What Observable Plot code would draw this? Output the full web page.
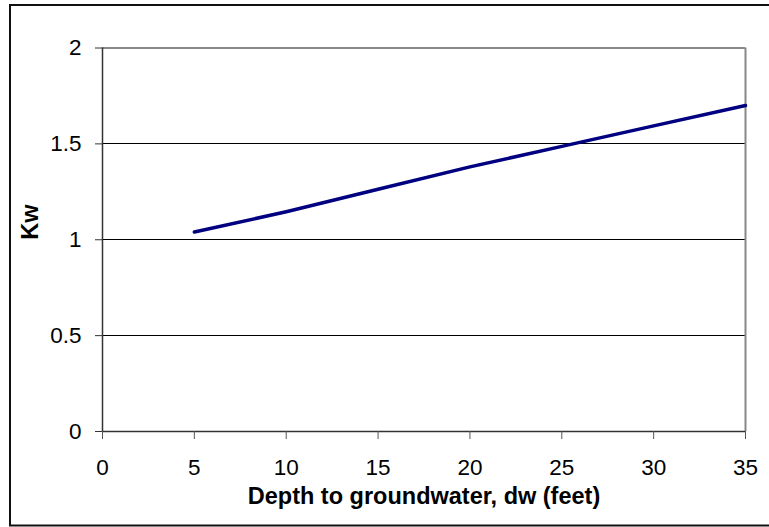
<!DOCTYPE html>
<html><head><meta charset="utf-8">
<script src="https://cdn.jsdelivr.net/npm/d3@7"></script>
<script src="https://cdn.jsdelivr.net/npm/@observablehq/plot@0.6"></script>
<style>body{margin:0;background:#fff;overflow:hidden}</style>
</head><body><div id="chart"></div>
<script>
const depth = [5, 10, 15, 20, 25, 30, 35];
const kw = [1.04, 1.146, 1.263, 1.38, 1.487, 1.594, 1.70];
const xTicks = [0, 5, 10, 15, 20, 25, 30, 35];
const yTicks = [0, 0.5, 1, 1.5, 2];
const gridY = [0.5, 1, 1.5];
const xTitle = "Depth to groundwater, dw (feet)";
const yTitle = "Kw";

const data = depth.map((d, i) => ({depth: d, kw: kw[i]}));

const chart = Plot.plot({
  width: 769, height: 527,
  marginLeft: 102, marginRight: 24, marginTop: 47.5, marginBottom: 96,
  style: {fontFamily: "'Liberation Sans', Arial, sans-serif", fontSize: "22.5px", color: "#000", background: "#fff"},
  x: {domain: [0, 35]},
  y: {domain: [0, 2]},
  marks: [
    Plot.ruleY(gridY, {stroke: "#000", strokeWidth: 1, shapeRendering: "crispEdges"}),
    Plot.ruleY([2], {stroke: "#888", strokeWidth: 2}),
    Plot.ruleX([35], {stroke: "#888", strokeWidth: 2}),
    Plot.ruleX([0], {stroke: "#333", strokeWidth: 1.5}),
    Plot.ruleY([0], {stroke: "#333", strokeWidth: 1.5}),
    Plot.axisX({ticks: xTicks, tickSize: 8, tickPadding: 20, tickFormat: d => d, label: null, fontSize: 22.5, stroke: "#555", strokeOpacity: 1}),
    Plot.axisY({ticks: yTicks, tickSize: 7, tickPadding: 14, tickFormat: d => d, label: null, fontSize: 22.5, stroke: "#333", strokeOpacity: 1}),
    Plot.line(data, {x: "depth", y: "kw", stroke: "#000080", strokeWidth: 3.5}),
    Plot.text([xTitle], {frameAnchor: "bottom", dy: 72, fontWeight: "bold", fontSize: 23.5}),
    Plot.text([yTitle], {frameAnchor: "left", dx: -72, rotate: -90, fontWeight: "bold", fontSize: 23.5})
  ]
});

d3.select(chart).append("rect")
  .attr("x", 10).attr("y", 5).attr("width", 775).attr("height", 520.5)
  .attr("fill", "none").attr("stroke", "#111").attr("stroke-width", 2);

document.getElementById("chart").append(chart);
</script>
</body></html>
